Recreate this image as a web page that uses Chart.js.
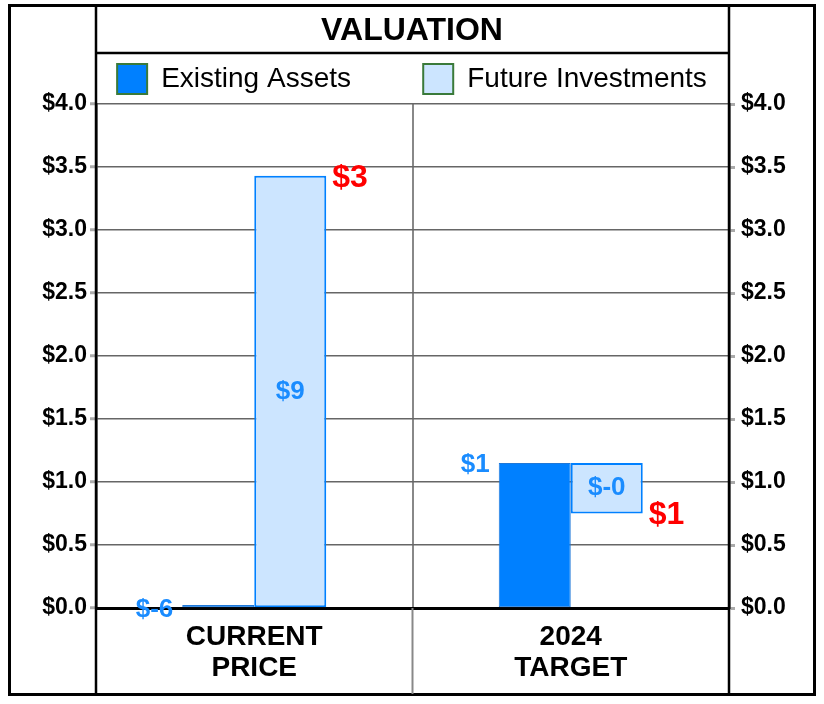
<!DOCTYPE html>
<html>
<head>
<meta charset="utf-8">
<script src="https://cdn.jsdelivr.net/npm/chart.js@4.4.1/dist/chart.umd.min.js"></script>
<style>
  body { margin: 0; background: #fff; }
  #wrap { width: 824px; height: 704px; position: relative; }
</style>
</head>
<body>
<div id="wrap"><canvas id="chart"></canvas></div>
<script>
// chart data
const categories = [['CURRENT', 'PRICE'], ['2024', 'TARGET']];
const seriesNames = ['Existing Assets', 'Future Investments'];
const existingStart = [0, 0];
const existingEnd = [0, 1.15];
const futureStart = [0, 1.15];
const futureEnd = [3.43, 0.75];
const existingLabels = ['$-6', '$1'];
const futureLabels = ['$9', '$-0'];
const totalLabels = ['$3', '$1'];
const yTicks = [0, 0.5, 1, 1.5, 2, 2.5, 3, 3.5, 4];

const FONT = "'Liberation Sans', Arial, Helvetica, sans-serif";
const BLUE = '#0080ff';
const LIGHT = '#cce5ff';
const LABEL_BLUE = '#1a8cff';

// outer frame, title box line and axis lines running full height
const framePlugin = {
  id: 'frame',
  afterDraw(chart) {
    const { ctx, chartArea: a, scales } = chart;
    ctx.save();
    ctx.strokeStyle = '#000';
    ctx.lineWidth = 3;
    ctx.strokeRect(9.5, 5.5, 805, 689);
    ctx.lineWidth = 2.5;
    ctx.beginPath();
    ctx.moveTo(a.left, 5); ctx.lineTo(a.left, 694);
    ctx.moveTo(a.right, 5); ctx.lineTo(a.right, 694);
    ctx.moveTo(a.left, 53); ctx.lineTo(a.right, 53);
    ctx.stroke();
    // divider between the categories, below the axis
    const x = scales.x;
    const mid = (x.getPixelForTick(0) + x.getPixelForTick(1)) / 2;
    ctx.strokeStyle = '#888';
    ctx.lineWidth = 2;
    ctx.beginPath();
    ctx.moveTo(mid, a.bottom); ctx.lineTo(mid, 694);
    ctx.stroke();
    ctx.restore();
  }
};

// value labels next to / inside bars (drawn last so they sit over the axis line)
const labelPlugin = {
  id: 'barLabels',
  afterDraw(chart) {
    const { ctx } = chart;
    const y = chart.scales.y;
    const ex = chart.getDatasetMeta(0).data;
    const fu = chart.getDatasetMeta(1).data;
    ctx.save();
    ctx.textBaseline = 'middle';
    ex.forEach((bar, i) => {
      ctx.font = 'bold 26px ' + FONT;
      ctx.fillStyle = LABEL_BLUE;
      ctx.textAlign = 'right';
      ctx.fillText(existingLabels[i], bar.x - bar.width / 2 - 9, y.getPixelForValue(existingEnd[i]) + 2);
    });
    fu.forEach((bar, i) => {
      const top = y.getPixelForValue(futureEnd[i]);
      const bottom = y.getPixelForValue(futureStart[i]);
      ctx.font = 'bold 26px ' + FONT;
      ctx.fillStyle = LABEL_BLUE;
      ctx.textAlign = 'center';
      ctx.fillText(futureLabels[i], bar.x, (top + bottom) / 2);
      ctx.font = 'bold 32px ' + FONT;
      ctx.fillStyle = '#ff0000';
      ctx.textAlign = 'left';
      ctx.fillText(totalLabels[i], bar.x + bar.width / 2 + 6, top + 2);
    });
    ctx.restore();
  }
};

const money = (v) => '$' + Number(v).toFixed(1);

new Chart(document.getElementById('chart'), {
  type: 'bar',
  data: {
    labels: categories,
    datasets: [
      {
        label: seriesNames[0],
        data: existingStart.map((s, i) => [s, existingEnd[i]]),
        backgroundColor: BLUE,
        borderColor: '#1f78d8',
        borderWidth: 1,
        borderSkipped: false,
        minBarLength: 3,
      },
      {
        label: seriesNames[1],
        data: futureStart.map((s, i) => [s, futureEnd[i]]),
        backgroundColor: LIGHT,
        borderColor: BLUE,
        borderWidth: 2,
        borderSkipped: false,
      },
    ],
  },
  options: {
    responsive: true,
    maintainAspectRatio: false,
    animation: false,
    layout: { padding: 0 },
    datasets: { bar: { categoryPercentage: 0.455, barPercentage: 1 } },
    plugins: {
      tooltip: { enabled: false },
      title: {
        display: true,
        text: 'VALUATION',
        color: '#000',
        font: { family: FONT, size: 32, weight: 'bold' },
        padding: { top: 12, bottom: 3.6 },
      },
      legend: {
        display: true,
        labels: {
          color: '#000',
          font: { family: FONT, size: 28 },
          boxWidth: 30,
          boxHeight: 30,
          padding: 10,
          generateLabels(chart) {
            const items = Chart.defaults.plugins.legend.labels.generateLabels(chart);
            items.forEach((it, i) => {
              it.strokeStyle = '#3a7a3a';
              it.lineWidth = 2;
              if (i === 0) it.text = it.text + '        ';
            });
            return items;
          },
        },
      },
    },
    scales: {
      x: {
        offset: true,
        grid: { color: '#888', lineWidth: 2, drawTicks: false, offset: true },
        border: { color: '#000', width: 3 },
        ticks: { color: '#000', font: { family: FONT, size: 28, weight: 'bold', lineHeight: 1.1 }, padding: 14 },
        afterFit(s) { s.height = 96; },
      },
      y: {
        position: 'left',
        min: 0,
        max: 4,
        afterBuildTicks(s) { s.ticks = yTicks.map((v) => ({ value: v })); },
        grid: { color: '#666', lineWidth: 1.5, tickLength: 6, tickColor: '#aaa', tickWidth: 3 },
        border: { color: '#000', width: 2.5 },
        ticks: { color: '#000', font: { family: FONT, size: 23, weight: 'bold' }, padding: 3, callback: money },
        afterFit(s) { s.width = 96; },
      },
      y2: {
        position: 'right',
        min: 0,
        max: 4,
        afterBuildTicks(s) { s.ticks = yTicks.map((v) => ({ value: v })); },
        grid: { drawOnChartArea: false, tickLength: 6, tickColor: '#aaa', tickWidth: 3 },
        border: { color: '#000', width: 2.5 },
        ticks: { color: '#000', font: { family: FONT, size: 23, weight: 'bold' }, padding: 6, callback: money },
        afterFit(s) { s.width = 95; },
      },
    },
  },
  plugins: [framePlugin, labelPlugin],
});
</script>
</body>
</html>
